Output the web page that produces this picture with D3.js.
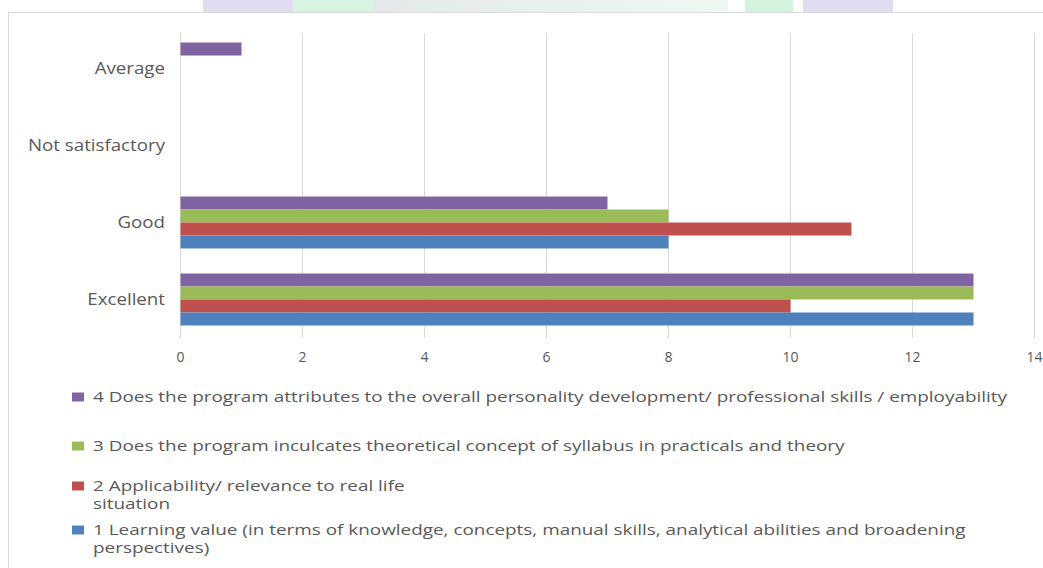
<!DOCTYPE html>
<html>
<head>
<meta charset="utf-8">
<script src="https://cdn.jsdelivr.net/npm/d3@7"></script>
<style>
  body { margin: 0; background: #fff; }
  svg { display: block; font-family: "Open Sans", sans-serif; }
</style>
</head>
<body>
<svg width="1043" height="568"></svg>
<script>
// categories top to bottom
let categories = ["Average", "Not satisfactory", "Good", "Excellent"];
let seriesNames = [
  "4 Does the program attributes to the overall personality development/ professional skills / employability",
  "3 Does the program inculcates theoretical concept of syllabus in practicals and theory",
  "2 Applicability/ relevance to real life|situation",
  "1 Learning value (in terms of knowledge, concepts, manual skills, analytical abilities and broadening|perspectives)"
];
let seriesKeys = ["s4", "s3", "s2", "s1"];
let seriesColors = ["#8064A2", "#9BBB59", "#C0504D", "#4F81BD"];
// values per category (Average, Not satisfactory, Good, Excellent)
let s4 = [1, 0, 7, 13];
let s3 = [0, 0, 8, 13];
let s2 = [0, 0, 11, 10];
let s1 = [0, 0, 8, 13];
let xTicks = [0, 2, 4, 6, 8, 10, 12, 14];

let values = {s4: s4, s3: s3, s2: s2, s1: s1};

let svg = d3.select('svg');

// faint watermark behind the top edge
let wm = svg.append('g');
wm.append('rect').attr('x', 203).attr('y', 0).attr('width', 90).attr('height', 12).attr('fill', '#e2dcf0');
wm.append('rect').attr('x', 293).attr('y', 0).attr('width', 80).attr('height', 12).attr('fill', '#d7f3e2');
let grad = svg.append('defs').append('linearGradient').attr('id', 'wg');
grad.append('stop').attr('offset', '0%').attr('stop-color', '#e4e8ea');
grad.append('stop').attr('offset', '100%').attr('stop-color', '#eef8f0');
wm.append('rect').attr('x', 373).attr('y', 0).attr('width', 355).attr('height', 12).attr('fill', 'url(#wg)');
wm.append('rect').attr('x', 745).attr('y', 0).attr('width', 48).attr('height', 12).attr('fill', '#d3f3df');
wm.append('rect').attr('x', 803).attr('y', 0).attr('width', 90).attr('height', 12).attr('fill', '#e2dcf0');

// chart frame
svg.append('rect')
  .attr('x', 8.5).attr('y', 12.5)
  .attr('width', 1100).attr('height', 600)
  .attr('fill', '#fff')
  .attr('stroke', '#d9d9d9');

let x = d3.scaleLinear().domain([0, 14]).range([180, 1034]);
let y = d3.scaleBand().domain(categories).range([30, 338])
  .paddingInner(0.325).paddingOuter(0.1625);
let ySub = d3.scaleBand().domain(seriesKeys).range([0, y.bandwidth()]);

// gridlines
svg.append('g')
  .selectAll('line')
  .data(xTicks)
  .enter()
  .append('line')
  .attr('x1', d => x(d) + 0.5).attr('x2', d => x(d) + 0.5)
  .attr('y1', 33).attr('y2', 338)
  .attr('stroke', '#d9d9d9');

// bars
categories.forEach((cat, ci) => {
  seriesKeys.forEach((key, si) => {
    let v = values[key][ci];
    if (v > 0) {
      svg.append('rect')
        .attr('x', x(0) + 0.5)
        .attr('y', y(cat) + ySub(key))
        .attr('width', x(v) - x(0))
        .attr('height', ySub.bandwidth())
        .attr('fill', seriesColors[si]);
    }
  });
});

// the picture is a bit stretched sideways, so stretch the texts the same way
let stretch = (sel, factor) => {
  sel.each(function() {
    let w = this.getComputedTextLength();
    d3.select(this).attr('textLength', w * factor).attr('lengthAdjust', 'spacingAndGlyphs');
  });
};

// x axis labels
let xAxis = svg.append('g')
  .attr('transform', 'translate(0,346)')
  .call(d3.axisBottom(x).tickValues(xTicks).tickSize(0).tickPadding(6));
xAxis.select('.domain').remove();
xAxis.selectAll('text')
  .attr('fill', '#595959')
  .style('font-size', '14px')
  .style('font-family', '"Open Sans", sans-serif');

// category labels
let yAxis = svg.append('g')
  .attr('transform', 'translate(165,0)')
  .call(d3.axisLeft(y).tickSize(0).tickPadding(0));
yAxis.select('.domain').remove();
let catText = yAxis.selectAll('text')
  .attr('fill', '#595959')
  .style('font-size', '16px')
  .style('font-family', '"Open Sans", sans-serif');
let nsWidth = yAxis.selectAll('text').filter(d => d === "Not satisfactory").node().getComputedTextLength();
stretch(catText, 137 / nsWidth);

// legend
let legendY = [397, 446, 486, 530];
let legend = svg.append('g');
let legendTexts = [];
seriesNames.forEach((name, i) => {
  let lines = name.split('|');
  legend.append('rect')
    .attr('x', 72).attr('y', legendY[i] - 4.5)
    .attr('width', 12).attr('height', 9)
    .attr('fill', seriesColors[i]);
  lines.forEach((line, li) => {
    let t = legend.append('text')
      .attr('x', 93)
      .attr('y', legendY[i] + 5 + li * 18)
      .attr('fill', '#595959')
      .style('font-size', '14px')
      .text(line);
    legendTexts.push(t.node());
  });
});
let longest = legendTexts[0].getComputedTextLength();
stretch(d3.selectAll(legendTexts), (1007 - 93) / longest);
</script>
</body>
</html>
